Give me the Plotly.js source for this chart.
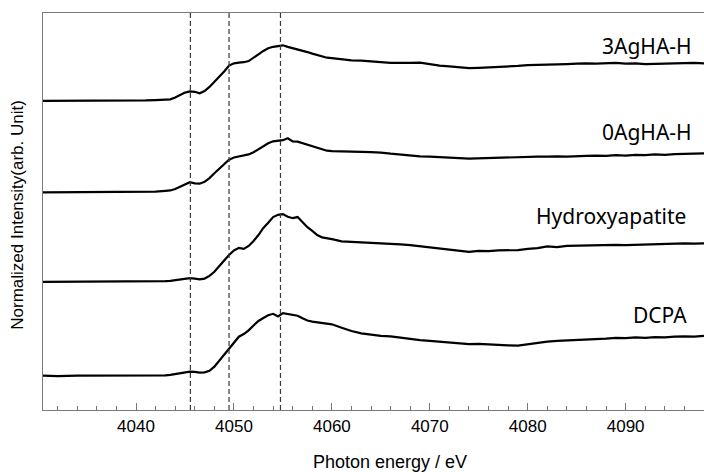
<!DOCTYPE html>
<html>
<head>
<meta charset="utf-8">
<script src="https://cdn.plot.ly/plotly-3.0.1.min.js"></script>
<style>html,body{margin:0;padding:0;background:#fff;overflow:hidden}</style>
</head>
<body>
<div id="chart" style="width:704px;height:472px"></div>
<script>
// Photon energy grid (eV)
const energy = [4030.5, 4032, 4034, 4036, 4038, 4040, 4041, 4042, 4043,
  4043.5, 4044, 4044.5, 4045, 4045.5, 4046, 4046.5, 4047, 4047.5, 4048, 4048.5, 4049, 4049.5, 4050,
  4050.5, 4051, 4051.5, 4052, 4052.5, 4053, 4053.5, 4054, 4054.5, 4055, 4055.5, 4056, 4056.5, 4057,
  4057.5, 4058, 4058.5, 4059, 4059.5, 4060,
  4061, 4062, 4063, 4064, 4065, 4066, 4067, 4068, 4069, 4070, 4071, 4072, 4073, 4074, 4075, 4076,
  4077, 4078, 4079, 4080, 4081, 4082, 4083, 4084, 4085, 4086, 4087, 4088, 4089, 4090, 4091, 4092,
  4093, 4094, 4095, 4096, 4097, 4098];

const seriesNames = ["3AgHA-H", "0AgHA-H", "Hydroxyapatite", "DCPA"];
const seriesOffsets = [7.33, 4.89, 2.5, 0];

const ag3 = [0.00, 0.00, -0.01, 0.00, 0.00, 0.01, 0.01, 0.02, 0.03,
  0.04, 0.09, 0.16, 0.22, 0.25, 0.24, 0.20, 0.26, 0.37, 0.50, 0.63, 0.78, 0.94, 1.00, 1.02, 1.03, 1.06,
  1.14, 1.24, 1.33, 1.40, 1.44, 1.47, 1.48, 1.44, 1.41, 1.38, 1.34, 1.30, 1.26, 1.22, 1.19, 1.15, 1.14,
  1.11, 1.08, 1.07, 1.04, 1.03, 1.01, 1.00, 1.01, 1.02, 0.97, 0.94, 0.92, 0.89, 0.87, 0.88, 0.89, 0.90,
  0.92, 0.93, 0.95, 0.96, 0.97, 0.99, 0.98, 0.99, 1.00, 0.99, 1.00, 1.01, 0.99, 1.00, 0.98, 0.99, 1.00,
  1.01, 1.00, 1.01, 1.00];

const ag0 = [0.00, 0.00, 0.00, 0.01, 0.00, 0.01, 0.01, 0.02, 0.04,
  0.05, 0.09, 0.15, 0.22, 0.27, 0.24, 0.23, 0.28, 0.38, 0.51, 0.63, 0.76, 0.87, 0.93, 0.95, 0.97, 1.01,
  1.07, 1.15, 1.23, 1.31, 1.36, 1.38, 1.39, 1.44, 1.36, 1.35, 1.31, 1.26, 1.21, 1.17, 1.14, 1.11, 1.10,
  1.10, 1.09, 1.08, 1.07, 1.06, 1.03, 1.00, 0.98, 0.96, 0.95, 0.93, 0.92, 0.91, 0.90, 0.91, 0.90, 0.91,
  0.92, 0.93, 0.94, 0.95, 0.95, 0.96, 0.95, 0.97, 0.97, 0.98, 0.97, 0.99, 0.98, 1.00, 0.99, 1.01, 1.00,
  1.02, 1.03, 1.02, 1.04];

const hap = [0.00, 0.00, 0.00, 0.00, 0.01, 0.00, 0.01, 0.01, 0.02,
  0.03, 0.05, 0.07, 0.09, 0.10, 0.09, 0.07, 0.09, 0.16, 0.27, 0.41, 0.57, 0.72, 0.84, 0.91, 0.88, 0.96,
  1.09, 1.25, 1.44, 1.58, 1.73, 1.79, 1.81, 1.74, 1.70, 1.73, 1.60, 1.46, 1.36, 1.25, 1.19, 1.17, 1.14,
  1.08, 1.07, 1.06, 1.05, 1.04, 1.03, 1.00, 0.98, 0.95, 0.93, 0.90, 0.87, 0.84, 0.80, 0.83, 0.82, 0.84,
  0.85, 0.85, 0.88, 0.90, 0.95, 0.93, 0.96, 0.97, 0.98, 0.99, 0.98, 0.99, 0.98, 0.99, 1.00, 1.01, 1.00,
  1.02, 1.03, 1.02, 1.03];

const dcpa = [0.00, -0.01, 0.00, 0.00, -0.01, 0.00, -0.01, -0.01, 0.01,
  0.02, 0.04, 0.07, 0.09, 0.11, 0.10, 0.08, 0.09, 0.13, 0.24, 0.40, 0.57, 0.71, 0.90, 1.04, 1.11, 1.21,
  1.34, 1.46, 1.54, 1.61, 1.65, 1.58, 1.67, 1.64, 1.62, 1.60, 1.53, 1.47, 1.44, 1.42, 1.40, 1.38, 1.37,
  1.28, 1.19, 1.13, 1.09, 1.06, 1.05, 1.01, 0.98, 0.95, 0.93, 0.91, 0.89, 0.87, 0.84, 0.85, 0.83, 0.82,
  0.81, 0.80, 0.84, 0.88, 0.91, 0.93, 0.94, 0.96, 0.97, 0.98, 0.99, 1.01, 1.00, 1.02, 1.01, 1.03, 1.02,
  1.04, 1.05, 1.04, 1.06];

const seriesValues = [ag3, ag0, hap, dcpa];

// reference edge positions (dashed lines)
const refEnergies = [4045.55, 4049.5, 4054.75];

// label positions
const labelX = [4097.0, 4097.0, 4096.4, 4096.5];
const labelY = [8.80, 6.50, 4.26, 1.62];

const traces = seriesNames.map((name, i) => ({
  type: 'scatter', mode: 'lines', name: name,
  x: energy,
  y: seriesValues[i].map(v => v + seriesOffsets[i]),
  line: {color: '#000000', width: 2.2},
  hoverinfo: 'skip'
}));

const shapes = refEnergies.map(e => ({
  type: 'line', xref: 'x', yref: 'paper', x0: e, x1: e, y0: 0, y1: 1,
  line: {color: '#3a3a3a', width: 1.2, dash: '5px,3px'}
}));

const annotations = seriesNames.map((name, i) => ({
  text: name, x: labelX[i], y: labelY[i], xref: 'x', yref: 'y',
  xanchor: 'right', yanchor: 'middle', showarrow: false,
  font: {family: 'Noto Sans, Open Sans, sans-serif', size: 21, color: '#000'}
}));
annotations.push({
  text: 'Photon energy / eV', xref: 'paper', yref: 'paper', x: (390 - 43.3) / (704 - 43.3), y: -0.13,
  xanchor: 'center', yanchor: 'middle', showarrow: false,
  font: {family: 'Liberation Sans, Arial, sans-serif', size: 18, color: '#000'}
});
annotations.push({
  text: 'Normalized Intensity(arb. Unit)', xref: 'paper', yref: 'paper',
  x: (18 - 43.3) / (704 - 43.3), y: (410 - 215) / 397, textangle: -90,
  xanchor: 'center', yanchor: 'middle', showarrow: false,
  font: {family: 'Liberation Sans, Arial, sans-serif', size: 17, color: '#000'}
});

const layout = {
  width: 704, height: 472,
  margin: {l: 43, r: 0, t: 13, b: 62, pad: 0},
  paper_bgcolor: '#fff', plot_bgcolor: '#fff',
  showlegend: false,
  xaxis: {
    range: [4030.5, 4098], tickvals: [4040, 4050, 4060, 4070, 4080, 4090],
    ticktext: ['4040', '4050', '4060', '4070', '4080', '4090'],
    ticks: 'inside', ticklen: 7, tickwidth: 1, tickcolor: '#777',
    minor: {ticks: 'inside', dtick: 2, tick0: 4030, ticklen: 4, tickwidth: 1, tickcolor: '#777', showgrid: false},
    showline: true, linecolor: '#7a7a7a', linewidth: 1.3, mirror: true,
    showgrid: false, zeroline: false,
    tickfont: {family: 'Liberation Sans, Arial, sans-serif', size: 17, color: '#000'}
  },
  yaxis: {
    range: [-0.915, 9.672], showticklabels: false, ticks: '',
    showline: true, linecolor: '#7a7a7a', linewidth: 1.3, mirror: false,
    showgrid: false, zeroline: false
  },
  shapes: shapes,
  annotations: annotations
};

Plotly.newPlot('chart', traces, layout, {displayModeBar: false, staticPlot: true});
</script>
</body>
</html>
